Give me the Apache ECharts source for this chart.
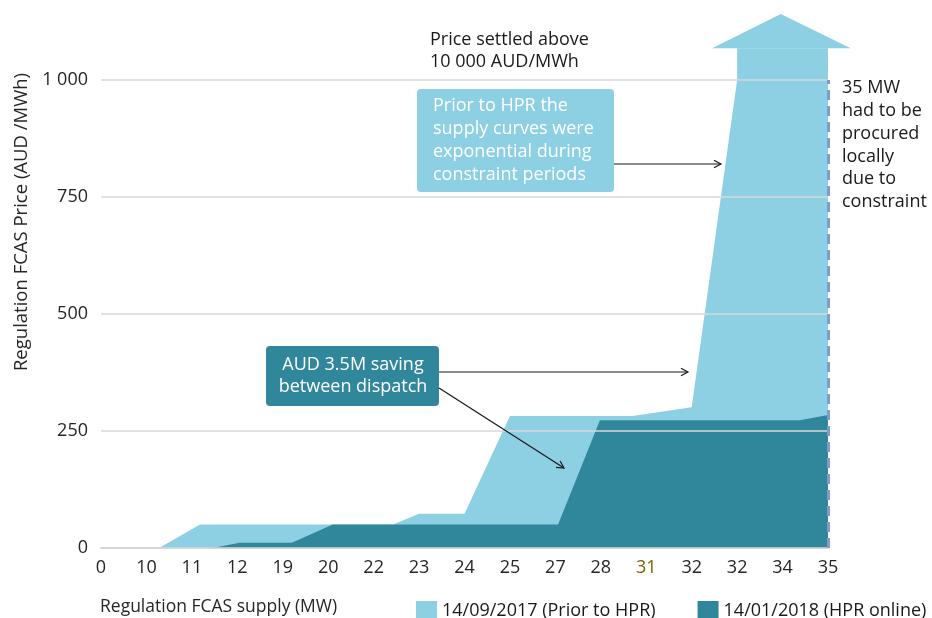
<!DOCTYPE html>
<html>
<head>
<meta charset="utf-8">
<script src="https://cdn.jsdelivr.net/npm/echarts@6/dist/echarts.min.js"></script>
<style>
html,body{margin:0;padding:0;background:#fff;}
#c{width:932px;height:618px;}
</style>
</head>
<body>
<div id="c"></div>
<script>
// Tick labels of the supply axis (one per tick position 0..16)
var supplyLabels = ['0','10','11','12','19','20','22','23','24','25','27','28','31','32','32','34','35'];
// Series points: [tick position, price AUD/MWh]
var prior2017 = [[0,0],[1.28,0],[2.18,50],[6.43,50],[7,73],[8,73],[9,282],[11.7,282],[13,301],[14,1000],[14,1068],[16,1068]];
var hpr2018 = [[0,0],[2.46,0],[3.05,11],[4.2,11],[5.1,50],[10.06,50],[10.98,273],[15.38,273],[16,284]];
// Arrow head above the 2017 curve (price beyond the axis)
var arrowHead = [[13.45,1068],[14.96,1141],[16.5,1068]];
var priceTicks = [0,250,500,750,1000];
var seriesNames = ['14/09/2017 (Prior to HPR)','14/01/2018 (HPR online)'];

var FONT = '"Open Sans", "Noto Sans", sans-serif';
var LIGHT = '#8DCFE3', DARK = '#30879C';
var FS = 18;

var chart = echarts.init(document.getElementById('c'), null, {renderer:'canvas'});

function arrow(x1,y1,x2,y2){
  var ang = Math.atan2(y2-y1,x2-x1), L = 8, a = 0.5;
  return [
    {type:'line', shape:{x1:x1,y1:y1,x2:x2,y2:y2}, style:{stroke:'#1a1a1a', lineWidth:1.2}, z:20},
    {type:'polyline', shape:{points:[[x2-L*Math.cos(ang-a), y2-L*Math.sin(ang-a)],[x2,y2],[x2-L*Math.cos(ang+a), y2-L*Math.sin(ang+a)]]}, style:{stroke:'#1a1a1a', lineWidth:1.2, fill:null}, z:20}
  ];
}
function txt(x,y,t,fs,color,align){
  return {type:'text', x:x, y:y, style:{text:t, font:fs+'px '+FONT, fill:color, align:align||'left', verticalAlign:'middle'}, z:21};
}

var graphics = [
  {type:'text', x:22, y:222, rotation:Math.PI/2, style:{text:'Regulation FCAS Price (AUD /MWh)', font:'18.5px '+FONT, fill:'#262626', align:'center', verticalAlign:'middle'}, z:20},
  txt(100,607,'Regulation FCAS supply (MW)',17.5,'#262626'),
  txt(430,40,'Price settled above',FS,'#1a1a1a'),
  txt(430,62,'10 000 AUD/MWh',FS,'#1a1a1a'),
  {type:'rect', shape:{x:417, y:89, width:197, height:103, r:4}, style:{fill:LIGHT}, z:20},
  txt(433,106,'Prior to HPR the',FS,'#ffffff'),
  txt(433,129,'supply curves were',FS,'#ffffff'),
  txt(433,152,'exponential during',FS,'#ffffff'),
  txt(433,175,'constraint periods',FS,'#ffffff'),
  {type:'rect', shape:{x:266, y:346, width:173, height:60, r:4}, style:{fill:DARK}, z:20},
  txt(353,365,'AUD 3.5M saving',FS,'#ffffff','center'),
  txt(353,387,'between dispatch',FS,'#ffffff','center')
];
var mwLines = ['35 MW','had to be','procured','locally','due to','constraint'];
mwLines.forEach(function(t,i){
  graphics.push(txt(842, 88+i*22.8, t, FS, '#1a1a1a'));
});
graphics = graphics.concat(arrow(614,164,721,164), arrow(439,372,688,372), arrow(439,388,564,468));

var option = {
  animation:false,
  backgroundColor:'#ffffff',
  textStyle:{fontFamily:FONT},
  grid:{left:101, right:104, top:80, bottom:70, containLabel:false, outerBoundsMode:'none'},
  legend:{
    left:411, top:596, itemWidth:21, itemHeight:20, itemGap:42, icon:'rect',
    textStyle:{fontSize:FS, color:'#1a1a1a', fontFamily:FONT},
    data:seriesNames
  },
  xAxis:{
    type:'value', min:0, max:16, interval:1,
    axisLine:{show:true, lineStyle:{color:'#BFBFBF', width:1.5}},
    axisTick:{show:false}, splitLine:{show:false},
    axisLabel:{
      margin:11, fontSize:FS, color:'#262626', fontFamily:FONT,
      formatter:function(v){ var s = supplyLabels[Math.round(v)]; return Math.round(v)===12 ? '{b|'+s+'}' : s; },
      rich:{b:{color:'#7F6000', fontSize:FS, fontFamily:FONT}}
    }
  },
  yAxis:{
    type:'value', min:0, max:1000, interval:250, z:5,
    axisLine:{show:false}, axisTick:{show:false},
    splitLine:{show:true, lineStyle:{color:'#D9D9D9', width:1.5}},
    axisLabel:{margin:13, fontSize:FS, color:'#262626', fontFamily:FONT,
      formatter:function(v){ return priceTicks.indexOf(v)>=0 ? String(v).replace(/\B(?=(\d{3})+(?!\d))/g,' ') : ''; }}
  },
  series:[
    {name:seriesNames[0], type:'line', data:prior2017, symbol:'none', clip:false, z:2,
     itemStyle:{color:LIGHT}, lineStyle:{width:0, color:LIGHT}, areaStyle:{color:LIGHT, opacity:1}},
    {name:seriesNames[1], type:'line', data:hpr2018, symbol:'none', clip:false, z:3,
     itemStyle:{color:DARK}, lineStyle:{width:0, color:DARK}, areaStyle:{color:DARK, opacity:1},
     markLine:{silent:true, symbol:'none', label:{show:false},
       lineStyle:{color:'#7C9CD2', width:3, type:[10,6]},
       data:[[{coord:[16,0]},{coord:[16,1000]}]]}},
    {type:'custom', clip:false, z:2, silent:true, data:[0],
     renderItem:function(params, api){
       var pts = arrowHead.map(function(p){ return api.coord(p); });
       return {type:'polygon', shape:{points:pts}, style:{fill:LIGHT}};
     }}
  ],
  graphic:graphics
};
chart.setOption(option);
</script>
</body>
</html>
